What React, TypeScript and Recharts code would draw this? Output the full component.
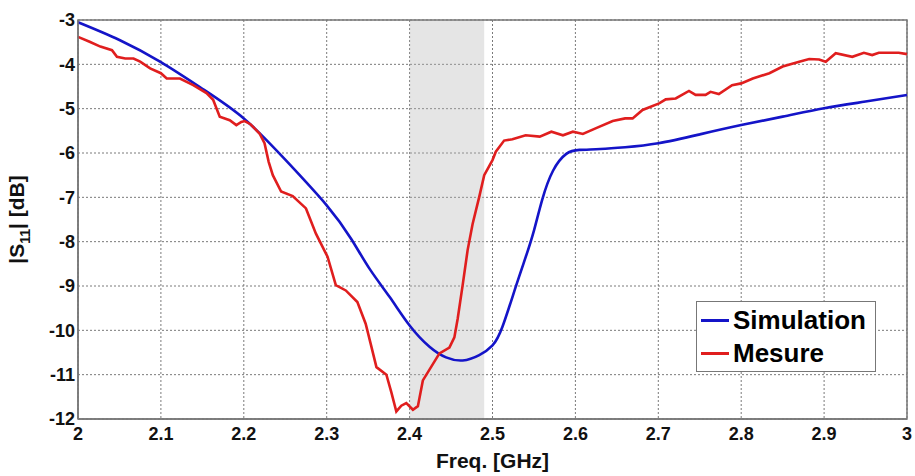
import React from "react";
import {
  LineChart,
  Line,
  XAxis,
  YAxis,
  CartesianGrid,
  ReferenceArea,
  Legend,
} from "recharts";

// frequency axis ticks [GHz] and |S11| ticks [dB]
const freqTicks = [2, 2.1, 2.2, 2.3, 2.4, 2.5, 2.6, 2.7, 2.8, 2.9, 3];
const dbTicks = [-3, -4, -5, -6, -7, -8, -9, -10, -11, -12];

// ISM band highlighted in grey
const bandStart = 2.4;
const bandEnd = 2.49;

// simulated response
const simFreq = [
  2.0, 2.05, 2.1, 2.15, 2.2, 2.25, 2.3, 2.33, 2.352, 2.376, 2.4, 2.424, 2.444,
  2.464, 2.484, 2.5, 2.512, 2.528, 2.54, 2.55, 2.56, 2.573, 2.589, 2.605,
  2.63, 2.66, 2.7, 2.75, 2.8, 2.85, 2.9, 2.95, 3.0,
];
const simS11 = [
  -3.05, -3.45, -3.95, -4.55, -5.22, -6.15, -7.18, -7.95, -8.62, -9.25, -9.89,
  -10.37, -10.61, -10.68, -10.56, -10.34, -9.92, -9.02, -8.35, -7.75, -7.05,
  -6.4, -6.02, -5.93, -5.91, -5.87, -5.78, -5.58, -5.37, -5.18, -4.99, -4.84,
  -4.69,
];

// measured response
const mesFreq = [
  2.0, 2.014, 2.027, 2.041, 2.047, 2.057, 2.067, 2.075, 2.087, 2.1, 2.107,
  2.123, 2.139, 2.155, 2.163, 2.171, 2.183, 2.191, 2.197, 2.201, 2.208, 2.219,
  2.225, 2.23, 2.235, 2.245, 2.259, 2.275, 2.287, 2.301, 2.311, 2.323, 2.337,
  2.347, 2.353, 2.36, 2.372, 2.378, 2.384, 2.39, 2.396, 2.404, 2.41, 2.416,
  2.436, 2.448, 2.454, 2.458, 2.464, 2.47, 2.476, 2.484, 2.49, 2.5, 2.504,
  2.514, 2.524, 2.54, 2.557, 2.571, 2.585, 2.597, 2.609, 2.625, 2.645, 2.66,
  2.669, 2.681, 2.701, 2.709, 2.721, 2.737, 2.745, 2.757, 2.763, 2.773, 2.789,
  2.8, 2.814, 2.834, 2.85, 2.87, 2.882, 2.894, 2.902, 2.914, 2.934, 2.948,
  2.958, 2.966, 2.99, 3.0,
];
const mesS11 = [
  -3.38, -3.49, -3.6, -3.68, -3.83, -3.87, -3.87, -3.94, -4.09, -4.2, -4.32,
  -4.32, -4.47, -4.65, -4.8, -5.18, -5.26, -5.37, -5.3, -5.28, -5.35, -5.56,
  -5.78, -6.2, -6.5, -6.87, -6.97, -7.25, -7.82, -8.34, -8.98, -9.1, -9.36,
  -9.85, -10.3, -10.83, -11.0, -11.4, -11.83, -11.7, -11.64, -11.79, -11.71,
  -11.13, -10.52, -10.39, -10.16, -9.74, -8.98, -8.19, -7.6, -6.99,
  -6.5, -6.16, -5.97, -5.72, -5.69, -5.6, -5.63, -5.52, -5.6, -5.52, -5.57,
  -5.44, -5.28, -5.22, -5.22, -5.03, -4.88, -4.79, -4.77, -4.6, -4.69, -4.69,
  -4.62, -4.67, -4.47, -4.43, -4.32, -4.2, -4.05, -3.94, -3.88, -3.89, -3.94,
  -3.75, -3.83, -3.74, -3.79, -3.74, -3.74, -3.77,
];

const simData = simFreq.map((f, i) => ({ f, v: simS11[i] }));
const mesData = mesFreq.map((f, i) => ({ f, v: mesS11[i] }));

const BLUE = "#1414c8";
const RED = "#e01e1e";
const FONT = "'Liberation Sans', Arial, sans-serif";

const tickStyle = { fill: "#111", fontSize: 18, fontWeight: 700, fontFamily: FONT };

function YLabel(props: any) {
  const vb = props.viewBox || {};
  const cx = 24;
  const cy = vb.y + vb.height / 2;
  return (
    <text
      x={cx}
      y={cy}
      transform={`rotate(-90 ${cx} ${cy})`}
      textAnchor="middle"
      fill="#111"
      fontSize={21}
      fontWeight={700}
      fontFamily={FONT}
    >
      |S
      <tspan fontSize={14} dy={6}>11</tspan>
      <tspan dy={-6}>| [dB]</tspan>
    </text>
  );
}

function XLabel(props: any) {
  const vb = props.viewBox || {};
  return (
    <text
      x={vb.x + vb.width / 2}
      y={468}
      textAnchor="middle"
      fill="#111"
      fontSize={21}
      fontWeight={700}
      fontFamily={FONT}
    >
      Freq. [GHz]
    </text>
  );
}

function LegendBox() {
  const rows = [
    { name: "Simulation", color: BLUE },
    { name: "Mesure", color: RED },
  ];
  return (
    <div
      style={{
        width: 180,
        height: 71,
        border: "1px solid #777",
        background: "#fff",
        boxSizing: "border-box",
        padding: "2px 0 0 4px",
        fontFamily: FONT,
        fontWeight: 700,
        fontSize: 26,
        color: "#000",
      }}
    >
      {rows.map((r) => (
        <div key={r.name} style={{ display: "flex", alignItems: "center", height: 33 }}>
          <span style={{ display: "inline-block", width: 28, height: 3, background: r.color, marginRight: 4 }} />
          <span>{r.name}</span>
        </div>
      ))}
    </div>
  );
}

export default function App() {
  return (
    <div style={{ position: "absolute", left: 0, top: 0, width: 915, height: 476, background: "#fff" }}>
      <LineChart width={915} height={476} margin={{ top: 20, right: 8, left: 0, bottom: 0 }}>
        <CartesianGrid stroke="#7a7a7a" strokeDasharray="2 2" />
        <XAxis
          dataKey="f"
          type="number"
          domain={[2, 3]}
          ticks={freqTicks}
          allowDuplicatedCategory={false}
          height={57}
          tickLine={false}
          axisLine={{ stroke: "#777", strokeWidth: 1.5 }}
          tick={tickStyle}
          tickFormatter={(t: number) => String(t)}
          label={<XLabel />}
        />
        <YAxis
          type="number"
          domain={[-12, -3]}
          ticks={dbTicks}
          width={78}
          tickSize={1}
          tickMargin={2}
          tickLine={false}
          axisLine={{ stroke: "#777", strokeWidth: 1.5 }}
          tick={tickStyle}
          label={<YLabel />}
        />
        <Line
          data={simData}
          dataKey="v"
          name="Simulation"
          type="natural"
          stroke={BLUE}
          strokeWidth={2.6}
          dot={false}
          isAnimationActive={false}
        />
        <Line
          data={mesData}
          dataKey="v"
          name="Mesure"
          type="linear"
          stroke={RED}
          strokeWidth={2.6}
          dot={false}
          isAnimationActive={false}
        />
        <ReferenceArea x1={bandStart} x2={bandEnd} y1={-12} y2={-3} fill="#b4b4b4" fillOpacity={0.35} stroke="none" />
        <ReferenceArea x1={2} x2={3} y1={-12} y2={-3} fill="none" stroke="#777" strokeWidth={1.5} />
        <Legend
          layout="vertical"
          align="center"
          verticalAlign="middle"
          content={() => <LegendBox />}
          wrapperStyle={{ left: 696, top: 301, width: 180, height: 71 }}
        />
      </LineChart>
    </div>
  );
}
